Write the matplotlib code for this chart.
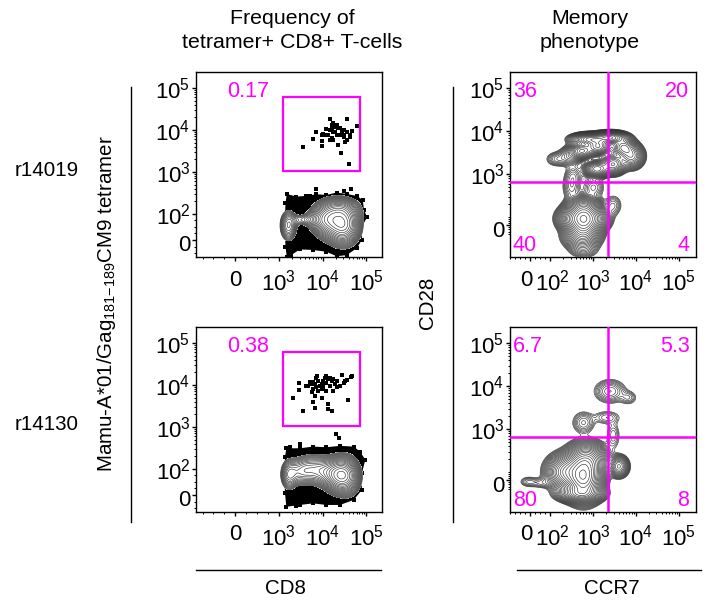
import numpy as np
import matplotlib
matplotlib.use("Agg")
from matplotlib import pyplot as plt
from matplotlib.lines import Line2D
from matplotlib.patches import Rectangle
from matplotlib.ticker import FixedLocator, NullFormatter
from matplotlib.transforms import ScaledTranslation

plt.rcParams['font.family'] = ['Liberation Sans', 'DejaVu Sans']
plt.rcParams['mathtext.fontset'] = 'custom'
plt.rcParams['mathtext.rm'] = 'Liberation Sans'
plt.rcParams['mathtext.it'] = 'Liberation Sans'
plt.rcParams['mathtext.default'] = 'rm'

MAGENTA = '#ff00ff'
W, H = 710, 601

# tetramer+ events, log10 values
r14019_gate_logx = [3.55, 3.79, 3.86, 3.98, 3.99, 3.98, 4.02, 4.08, 4.16, 4.55, 4.79, 4.61, 4.43, 4.35, 4.52,
                    4.21, 4.25, 4.32, 4.40, 4.48, 4.55, 4.68, 4.63, 4.57, 4.17, 4.13, 4.21, 4.28, 4.32, 4.40,
                    4.36, 4.25, 4.17, 4.25, 4.05, 4.48, 4.44, 4.28, 4.21, 4.49, 4.62]
r14019_gate_logy = [3.59, 3.79, 3.95, 3.61, 3.74, 3.88, 3.90, 4.03, 4.27, 4.25, 4.09, 3.20, 3.44, 3.64, 3.72,
                    4.12, 4.16, 4.12, 4.04, 4.00, 3.96, 3.98, 3.83, 3.76, 4.00, 3.88, 3.80, 3.96, 3.88, 3.88,
                    4.04, 3.96, 3.76, 3.75, 3.88, 3.84, 3.96, 4.08, 4.04, 3.88, 3.88]
r14130_gate_logx = [3.32, 3.55, 3.45, 3.46, 3.78, 3.82, 4.12, 4.12, 4.21, 4.58, 3.98, 3.82, 3.76, 3.67, 3.62,
                    3.71, 3.78, 3.86, 3.88, 3.90, 3.98, 4.02, 4.05, 4.09, 4.17, 4.25, 4.32, 4.44, 4.52, 4.57,
                    4.65, 4.40, 4.32, 4.25, 4.17, 4.09, 3.98, 3.86, 3.78, 3.94, 3.82, 4.21, 4.09, 4.28, 4.48,
                    4.67, 4.02, 3.75, 3.90, 4.13, 4.31, 4.38]
r14130_gate_logy = [3.69, 3.37, 4.05, 3.89, 3.60, 3.44, 3.54, 3.42, 3.38, 3.65, 3.69, 3.74, 3.82, 3.98, 3.98,
                    4.06, 4.06, 4.17, 4.21, 4.10, 4.02, 3.94, 4.17, 4.21, 4.17, 4.13, 4.10, 4.24, 4.10, 4.11,
                    4.19, 3.98, 3.94, 3.86, 3.98, 4.05, 3.90, 3.94, 3.90, 3.98, 4.02, 4.10, 3.86, 4.02, 4.05,
                    4.21, 4.10, 4.02, 3.86, 4.13, 2.84, 2.73]

# outline of the dense tetramer- event cloud
r14019_edge_logx = [3.18, 3.40, 3.63, 3.86, 4.09, 4.32, 4.55, 4.78, 4.92, 4.95, 5.02, 4.90, 4.90, 4.78, 4.55,
                    4.32, 4.09, 3.78, 3.48, 3.28, 3.18, 3.15, 3.14, 3.14, 3.15]
r14019_edge_y = [299, 259, 268, 294, 283, 322, 299, 268, 215, 124, 87, 51, 0, -32, -58,
                 -62, -45, -38, -36, -58, -64, -26, 26, 90, 179]
r14019_stray_logx = [3.86, 3.71, 4.48, 4.65]
r14019_stray_y = [385, 268, 355, 395]
r14130_edge_logx = [3.17, 3.48, 3.78, 4.09, 4.40, 4.71, 4.86, 4.98, 4.90, 4.90, 4.71, 4.40, 4.09, 3.78, 3.48,
                    3.17, 3.14, 3.12, 3.14]
r14130_edge_y = [310, 310, 340, 328, 354, 340, 259, 164, 83, 19, -19, -38, -38, -32, -38,
                 -45, 6, 83, 197]
r14130_stray_logx = [3.25, 3.48, 3.40, 3.44]
r14130_stray_y = [328, 393, -42, -35]

# density peaks behind the contours: position, spread (px) and weight
a_x = [1660, 3500, 9000, 12000, 16000, 25000, 27500, 38000]
a_y = [55, 78, 80, 75, 75, 130, 55, 60]
a_sx = [5, 8, 10, 9, 10, 12, 9, 8]
a_sy = [9, 3.5, 7, 10, 11, 7, 11, 11]
a_w = [.6, .2, .25, .55, .4, .5, 1, .5]

c_x = [1700, 3200, 6000, 11000, 20000, 27500, 42000]
c_y = [77, 90, 100, 90, 75, 77, 70]
c_sx = [5, 8, 10, 9, 9, 8, 7]
c_sy = [9, 8, 9, 8, 10, 10, 11]
c_w = [.5, .4, .4, .35, .6, 1, .5]

b_x = [550, 1320, 850, 2500, 5100, 7900, 2950, 1230, 145, 295, 347, 316, 1020, 2950, 380, 930, 600, 600, 600, 550, 600]
b_y = [3470, 4370, 6460, 7080, 4170, 2630, 1700, 1320, 2240, 2630, 920, 490, 490, 186, 80, 80, 155, -33, 80, -120, -233]
b_sx = [6, 6, 9, 8, 6, 6, 6, 6, 6, 6, 5, 5, 6, 5, 8, 8, 8, 8, 6, 9, 8]
b_sy = [4, 4, 3, 3, 5, 6, 5, 4, 4, 5, 6, 7, 6, 6, 6, 6, 6, 6, 6, 6, 5]
b_w = [.6, .7, .6, .7, .4, .3, .4, .45, .05, .1, .04, .05, .05, .04, .6, .6, .6, .6, .6, .25, .05]

d_x = [600, 250, 500, 700, 4000, -8, 60, 600, 2100, 2950, 2500, 6600]
d_y = [40, 100, -130, 180, 135, -17, -30, 1410, 1860, 700, 7600, 5400]
d_sx = [8, 9, 10, 9, 4.5, 5, 7, 6, 8, 4, 8, 5]
d_sy = [10, 8, 4, 8, 5, 3, 3, 6, 4, 8, 6, 4]
d_w = [1, .35, .3, .4, .12, .012, .012, .02, .012, .012, .03, .012]

x_tick_labels_left = ['0', r'$10^{3}$', r'$10^{4}$', r'$10^{5}$']
x_ticks_left = [0, 1e3, 1e4, 1e5]
y_tick_labels_left = ['0', r'$10^{2}$', r'$10^{3}$', r'$10^{4}$', r'$10^{5}$']
y_ticks_left = [0, 1e2, 1e3, 1e4, 1e5]
x_tick_labels_right = ['0', r'$10^{2}$', r'$10^{3}$', r'$10^{4}$', r'$10^{5}$']
x_ticks_right = [0, 1e2, 1e3, 1e4, 1e5]
y_tick_labels_right = ['0', r'$10^{3}$', r'$10^{4}$', r'$10^{5}$']
y_ticks_right = [0, 1e3, 1e4, 1e5]


def minor_ticks(linthresh, low):
    out = []
    for d in range(int(np.log10(linthresh)), 5):
        out += [m * 10 ** d for m in range(2, 10)]
    out += list(np.linspace(-linthresh, linthresh, 9))
    return [t for t in out if t >= low]


def make_axes(left, top, right, bottom, xt, xl, yt, yl, xlin, xscale, ylin, yscale, xlim, ylim):
    ax = fig.add_axes([left / W, 1 - bottom / H, (right - left) / W, (bottom - top) / H])
    ax.set_xscale('symlog', linthresh=xlin, linscale=xscale)
    ax.set_yscale('symlog', linthresh=ylin, linscale=yscale)
    ax.set_xlim(*xlim)
    ax.set_ylim(*ylim)
    ax.xaxis.set_major_locator(FixedLocator(xt))
    ax.yaxis.set_major_locator(FixedLocator(yt))
    ax.set_xticklabels(xl)
    ax.set_yticklabels(yl)
    ax.xaxis.set_minor_locator(FixedLocator(minor_ticks(xlin, xlim[0])))
    ax.yaxis.set_minor_locator(FixedLocator(minor_ticks(ylin, ylim[0])))
    ax.xaxis.set_minor_formatter(NullFormatter())
    ax.yaxis.set_minor_formatter(NullFormatter())
    ax.tick_params(which='major', length=3, width=1, labelsize=16)
    ax.tick_params(axis='x', which='major', pad=6)
    ax.tick_params(axis='y', which='major', pad=1)
    ax.tick_params(which='minor', length=1.5, width=0.7)
    for s in ax.spines.values():
        s.set_linewidth(1.0)
    return ax


def shift_zero_label(tick, dx, dy):
    lab = tick.label1
    lab.set_transform(lab.get_transform() + ScaledTranslation(dx / 100, dy / 100, fig.dpi_scale_trans))


def draw_contours(ax, px, py, sx, sy, w, low, n):
    # build the density on a pixel grid so the shapes follow the drawn scale
    bb = ax.get_window_extent()
    gx, gy = np.meshgrid(np.linspace(bb.x0, bb.x1, 373), np.linspace(bb.y0, bb.y1, 371))
    centres = ax.transData.transform(np.column_stack([px, py]))
    z = np.zeros_like(gx)
    for (cx, cy), a, b, c in zip(centres, sx, sy, w):
        z += c * np.exp(-0.5 * (((gx - cx) / a) ** 2 + ((gy - cy) / b) ** 2))
    pts = ax.transData.inverted().transform(np.column_stack([gx.ravel(), gy.ravel()]))
    X = pts[:, 0].reshape(gx.shape)
    Y = pts[:, 1].reshape(gx.shape)
    levels = np.geomspace(low, z.max() * 0.93, n)
    ax.contourf(X, Y, z, levels=[low, z.max() * 2], colors='white', zorder=3)
    ax.contour(X, Y, z, levels=levels, colors='#333333', linewidths=0.45, zorder=4)


def dots(ax, x, y, z=2):
    ax.scatter(x, y, marker='s', s=8, c='black', linewidths=0, zorder=z)


def cloud(ax, logx, y):
    x = 10 ** np.array(logx)
    ax.fill(x, y, color='black', lw=0, zorder=1)
    dots(ax, x, y)


def label(ax, x, y, s, ha='left', va='center'):
    ax.text(x, y, s, color=MAGENTA, fontsize=15.5, ha=ha, va=va, zorder=6, transform=ax.transAxes)


def gate_panel(top, gate_logx, gate_logy, edge_logx, edge_y, stray_logx, stray_y, px, py, sx, sy, w, freq, low):
    ax = make_axes(196, top, 382, top + 185, x_ticks_left, x_tick_labels_left, y_ticks_left, y_tick_labels_left,
                   1000, 0.9, 100, 0.56, (-900, 2.3e5), (-65, 2.4e5))
    cloud(ax, edge_logx, edge_y)
    dots(ax, 10 ** np.array(stray_logx), stray_y)
    draw_contours(ax, px, py, sx, sy, w, low, 20)
    dots(ax, 10 ** np.array(gate_logx), 10 ** np.array(gate_logy), z=5)
    ax.add_patch(Rectangle((1240, 1050), 72000 - 1240, 61000 - 1050, fill=False, edgecolor=MAGENTA, lw=1.6, zorder=6))
    label(ax, 0.165, 0.895, freq)
    shift_zero_label(ax.yaxis.get_major_ticks()[0], 0, -3)
    return ax


def memory_panel(top, px, py, sx, sy, w, q, low, n):
    ax = make_axes(510, top, 696, top + 185, x_ticks_right, x_tick_labels_right, y_ticks_right, y_tick_labels_right,
                   100, 0.42, 100, 0.175, (-100, 2.5e5), (-350, 2.4e5))
    draw_contours(ax, px, py, sx, sy, w, low, n)
    ax.axvline(2230, color=MAGENTA, lw=1.8, zorder=6)
    ax.axhline(655, color=MAGENTA, lw=1.8, zorder=6)
    label(ax, 0.015, 0.895, q[0])
    label(ax, 0.965, 0.895, q[1], ha='right')
    label(ax, 0.015, 0.06, q[2])
    label(ax, 0.965, 0.06, q[3], ha='right')
    shift_zero_label(ax.yaxis.get_major_ticks()[0], 0, -4)
    shift_zero_label(ax.xaxis.get_major_ticks()[0], -4, 0)
    shift_zero_label(ax.xaxis.get_major_ticks()[1], 2, 0)
    return ax


fig = plt.figure(figsize=(W / 100, H / 100), dpi=100)

gate_panel(72, r14019_gate_logx, r14019_gate_logy, r14019_edge_logx, r14019_edge_y, r14019_stray_logx, r14019_stray_y,
           a_x, a_y, a_sx, a_sy, a_w, '0.17', 0.14)
gate_panel(327, r14130_gate_logx, r14130_gate_logy, r14130_edge_logx, r14130_edge_y, r14130_stray_logx, r14130_stray_y,
           c_x, c_y, c_sx, c_sy, c_w, '0.38', 0.14)
memory_panel(72, b_x, b_y, b_sx, b_sy, b_w, ['36', '20', '40', '4'], 0.012, 26)
memory_panel(327, d_x, d_y, d_sx, d_sy, d_w, ['6.7', '5.3', '80', '8'], 0.004, 26)


def fig_text(x, y, s, size=14.8, **kw):
    fig.text(x / W, 1 - y / H, s, fontsize=size, ha=kw.pop('ha', 'center'), va='center', **kw)


def fig_line(x0, y0, x1, y1):
    fig.add_artist(Line2D([x0 / W, x1 / W], [1 - y0 / H, 1 - y1 / H], color='black', lw=1.0))


fig_text(292, 18, 'Frequency of', size=15.4)
fig_text(292, 43, 'tetramer+ CD8+ T-cells', size=15.4)
fig_text(590, 18, 'Memory', size=15.4)
fig_text(590, 43, 'phenotype', size=15.4)
fig_text(15, 171, 'r14019', ha='left')
fig_text(15, 424, 'r14130', ha='left')
fig_text(107, 304, r'Mamu-A*01/Gag$_{181\mathrm{-}189}$CM9 tetramer', rotation=90)
fig_text(428, 303, 'CD28', rotation=90)
fig_text(285, 589, 'CD8')
fig_text(612, 589, 'CCR7')
fig_line(131, 87, 131, 522)
fig_line(453, 87, 453, 522)
fig_line(196, 570, 381, 570)
fig_line(517, 570, 701, 570)

fig.savefig('out.png', dpi=100)
